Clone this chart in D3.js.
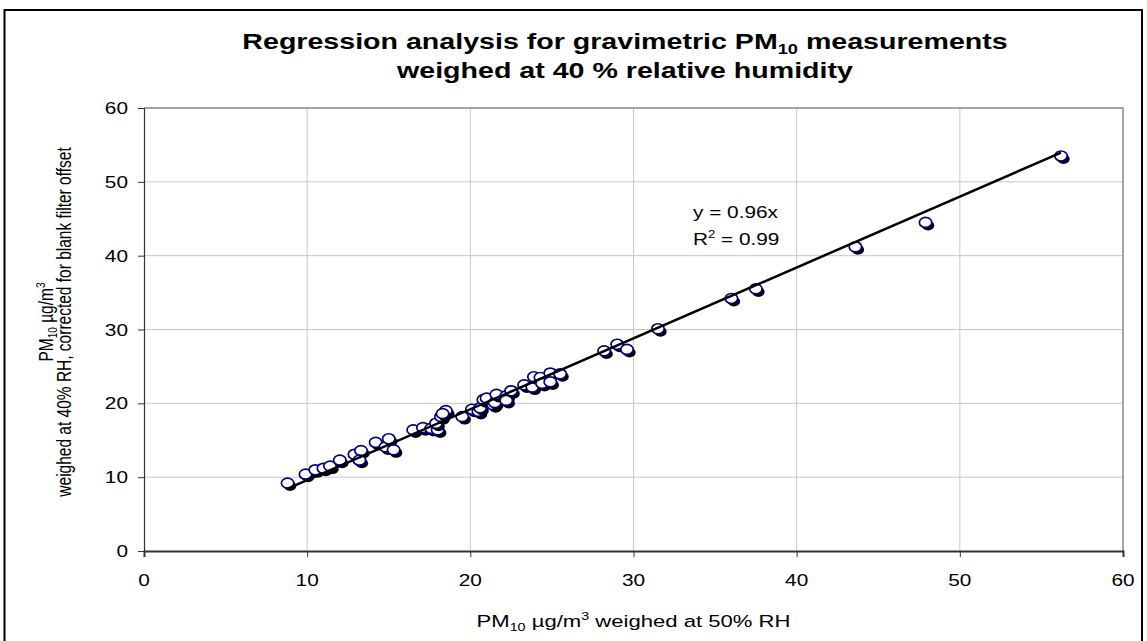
<!DOCTYPE html>
<html lang="en">
<head>
    <meta charset="UTF-8">
    <title>PM10 regression</title>
    <script src="https://cdn.jsdelivr.net/npm/d3@7/dist/d3.min.js"></script>
    <style>
        body { margin: 0; background: #fff; }
        text { font-family: "Liberation Sans", Arial, sans-serif; fill: #000; }
    </style>
</head>
<body>
<script>
    // PM10 at 50% RH (x) vs. 40% RH corrected (y)
    const pm50 = [8.8, 9.9, 10.5, 11.0, 11.4, 12.0, 12.9, 13.3, 13.2, 14.2,
                  14.8, 15.0, 15.3, 16.5, 17.1, 17.6, 18.0, 17.9, 18.2, 18.5,
                  18.3, 19.5, 20.1, 20.5, 20.6, 20.8, 21.0, 21.4, 21.5, 21.6,
                  22.2, 22.2, 22.5, 23.3, 23.8, 23.9, 24.3, 24.4, 24.9, 24.9,
                  25.5, 28.2, 29.0, 29.6, 31.5, 36.0, 37.5, 43.6, 47.9, 56.2];
    const pm40 = [9.2, 10.4, 11.0, 11.2, 11.5, 12.3, 13.1, 13.6, 12.3, 14.7,
                  14.1, 15.2, 13.7, 16.4, 16.7, 16.6, 16.4, 17.3, 18.2, 19.0,
                  18.6, 18.2, 19.2, 18.9, 19.4, 20.5, 20.7, 19.8, 20.1, 21.2,
                  21.0, 20.4, 21.7, 22.5, 22.2, 23.6, 23.5, 22.7, 24.1, 22.9,
                  24.0, 27.1, 28.0, 27.3, 30.1, 34.2, 35.5, 41.2, 44.5, 53.5];
    const xTicks = [0, 10, 20, 30, 40, 50, 60];
    const yTicks = [0, 10, 20, 30, 40, 50, 60];
    const slope = 0.96;
    const rSquared = 0.99;

    const w = 1147, h = 641;
    const pLeft = 144, pRight = 1123, pTop = 108, pBottom = 551;
    // the original picture is stretched sideways, so text is too
    const SX = 1.3;

    const data = pm50.map(function (d, i) { return [d, pm40[i]]; });

    const xScale = d3.scaleLinear().domain([0, 60]).range([pLeft, pRight]);
    const yScale = d3.scaleLinear().domain([0, 60]).range([pBottom, pTop]);

    const svg = d3.select("body").append("svg")
        .attr("width", w)
        .attr("height", h);

    // outer chart frame
    svg.append("rect")
        .attr("x", 4.5).attr("y", 10)
        .attr("width", 1137.5).attr("height", 660)
        .attr("fill", "none")
        .attr("stroke", "#000")
        .attr("stroke-width", 2);

    function label(x, y, anchor, size, weight) {
        return svg.append("text")
            .attr("transform", "translate(" + x + "," + y + ") scale(" + SX + ",1)")
            .attr("text-anchor", anchor)
            .attr("font-size", size + "px")
            .attr("font-weight", weight || "normal");
    }

    // gridlines
    svg.append("g").selectAll("line")
        .data(xTicks.slice(1))
        .enter().append("line")
        .attr("x1", function (d) { return xScale(d); })
        .attr("x2", function (d) { return xScale(d); })
        .attr("y1", pTop).attr("y2", pBottom)
        .attr("stroke", "#c8c8c8").attr("stroke-width", 1);
    svg.append("g").selectAll("line")
        .data(yTicks.slice(1))
        .enter().append("line")
        .attr("x1", pLeft).attr("x2", pRight)
        .attr("y1", function (d) { return yScale(d); })
        .attr("y2", function (d) { return yScale(d); })
        .attr("stroke", "#c8c8c8").attr("stroke-width", 1);

    // plot area edge, top and right
    svg.append("path")
        .attr("d", "M" + pLeft + "," + pTop + "H" + pRight + "V" + pBottom)
        .attr("fill", "none")
        .attr("stroke", "#909090")
        .attr("stroke-width", 1.5);

    // axes
    const xAxis = svg.append("g")
        .attr("transform", "translate(0," + pBottom + ")")
        .call(d3.axisBottom(xScale).tickValues(xTicks).tickSize(6).tickFormat(""));
    xAxis.select(".domain").attr("stroke", "#333").attr("stroke-width", 2);
    xAxis.selectAll(".tick line").attr("stroke", "#333");

    const yAxis = svg.append("g")
        .attr("transform", "translate(" + pLeft + ",0)")
        .call(d3.axisLeft(yScale).tickValues(yTicks).tickSize(6).tickFormat(""));
    yAxis.select(".domain").attr("stroke", "#333").attr("stroke-width", 1.2);
    yAxis.selectAll(".tick line").attr("stroke", "#333");

    // tick labels (stretched like the source)
    xTicks.forEach(function (t) {
        label(xScale(t), pBottom + 35, "middle", 16).text(t);
    });
    yTicks.forEach(function (t) {
        label(pLeft - 16, yScale(t) + 6, "end", 16).text(t);
    });

    // points: shadow then white marker
    const pts = svg.append("g").selectAll("g")
        .data(data)
        .enter().append("g");
    pts.append("ellipse")
        .attr("cx", function (d) { return xScale(d[0]) + 2.5; })
        .attr("cy", function (d) { return yScale(d[1]) + 3; })
        .attr("rx", 6.2).attr("ry", 5)
        .attr("fill", "#000");
    pts.append("ellipse")
        .attr("cx", function (d) { return xScale(d[0]); })
        .attr("cy", function (d) { return yScale(d[1]); })
        .attr("rx", 6.2).attr("ry", 5)
        .attr("fill", "#fff")
        .attr("stroke", "#000080")
        .attr("stroke-width", 1.7);

    // trend line y = 0.96x
    const xMin = d3.min(pm50), xMax = d3.max(pm50);
    svg.append("line")
        .attr("x1", xScale(xMin)).attr("y1", yScale(slope * xMin))
        .attr("x2", xScale(xMax)).attr("y2", yScale(slope * xMax))
        .attr("stroke", "#000")
        .attr("stroke-width", 2.5);

    // equation
    label(693, 218, "start", 16).text("y = " + slope + "x");
    const r2 = label(693, 245, "start", 16);
    r2.append("tspan").text("R");
    r2.append("tspan").attr("font-size", "10px").attr("dy", -7).text("2");
    r2.append("tspan").attr("dy", 7).text(" = " + rSquared);

    // title
    const t1 = label(625, 49, "middle", 22, "bold");
    t1.append("tspan").text("Regression analysis for gravimetric PM");
    t1.append("tspan").attr("font-size", "14px").attr("dy", 5).text("10");
    t1.append("tspan").attr("dy", -5).text(" measurements");
    label(625, 78, "middle", 22, "bold").text("weighed at 40 % relative humidity");

    // x label
    const xl = label((pLeft + pRight) / 2, 627, "middle", 17);
    xl.append("tspan").text("PM");
    xl.append("tspan").attr("font-size", "11px").attr("dy", 4).text("10");
    xl.append("tspan").attr("dy", -4).text(" \u00b5g/m");
    xl.append("tspan").attr("font-size", "11px").attr("dy", -7).text("3");
    xl.append("tspan").attr("dy", 7).text(" weighed at 50% RH");

    // y label, two rotated lines
    const yMid = 322;
    const yl1 = svg.append("text")
        .attr("transform", "translate(53," + yMid + ") scale(" + SX + ",1) rotate(-90)")
        .attr("text-anchor", "middle")
        .attr("font-size", "15.5px");
    yl1.append("tspan").text("PM");
    yl1.append("tspan").attr("font-size", "10px").attr("dy", 3).text("10");
    yl1.append("tspan").attr("dy", -3).text(" \u00b5g/m");
    yl1.append("tspan").attr("font-size", "10px").attr("dy", -6).text("3");
    svg.append("text")
        .attr("transform", "translate(71," + yMid + ") scale(" + SX + ",1) rotate(-90)")
        .attr("text-anchor", "middle")
        .attr("font-size", "15.5px")
        .text("weighed at 40% RH, corrected for blank filter offset");
</script>
</body>
</html>
